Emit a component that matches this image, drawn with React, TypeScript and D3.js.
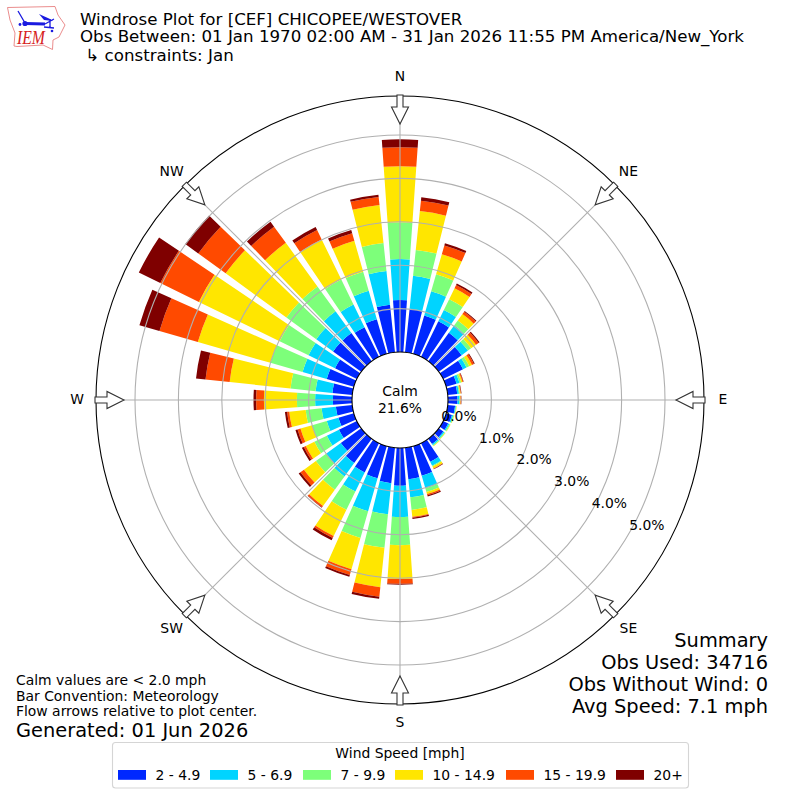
import React, { useEffect, useRef } from 'react';
import * as d3 from 'd3';

// direction of each bar, degrees clockwise from north
const directions = d3.range(36).map(i => i * 10);
const speedLabels = ['2 - 4.9', '5 - 6.9', '7 - 9.9', '10 - 14.9', '15 - 19.9', '20+'];
const speedColors = ['#0028ff', '#00d4ff', '#7dff7a', '#ffe600', '#ff4a00', '#7f0000'];

// percent of observations, one value per direction
const speed2 = [1.2, 1.01, 0.92, 0.91, 0.81, 0.65, 0.51, 0.25, 0.22, 0.22, 0.17, 0.14, 0.13, 0.13, 0.15, 0.48, 0.71, 0.73, 0.87, 0.82, 0.77, 0.75, 0.69, 0.58, 0.46, 0.37, 0.38, 0.44, 0.46, 0.65, 0.56, 0.8, 0.8, 0.76, 0.83, 1.1];
const speed5 = [0.94, 0.76, 0.58, 0.29, 0.21, 0.18, 0.09, 0.07, 0.04, 0.04, 0.02, 0.03, 0.03, 0.03, 0.03, 0.1, 0.3, 0.42, 0.72, 0.72, 0.79, 0.49, 0.38, 0.42, 0.31, 0.28, 0.33, 0.41, 0.39, 0.58, 0.68, 0.48, 0.62, 0.58, 0.68, 0.78];
const speed7 = [0.85, 0.6, 0.41, 0.28, 0.14, 0.09, 0.07, 0.04, 0.02, 0.02, 0.01, 0.02, 0.02, 0.02, 0.02, 0.02, 0.09, 0.29, 0.65, 0.78, 0.64, 0.47, 0.38, 0.29, 0.32, 0.35, 0.37, 0.42, 0.58, 0.77, 0.74, 0.85, 0.71, 0.64, 0.46, 0.65];
const speed10 = [1.29, 0.9, 0.48, 0.28, 0.18, 0.14, 0.07, 0.03, 0.02, 0.01, 0.01, 0.01, 0.01, 0.01, 0.01, 0.05, 0.05, 0.16, 0.78, 0.91, 0.75, 0.67, 0.46, 0.34, 0.22, 0.28, 0.38, 0.76, 1.41, 1.74, 2.07, 1.73, 1.24, 1.03, 0.74, 0.88];
const speed15 = [0.44, 0.24, 0.21, 0.08, 0.07, 0.07, 0.05, 0.02, 0.01, 0.01, 0, 0, 0, 0, 0, 0.01, 0.03, 0.02, 0.11, 0.22, 0.14, 0.05, 0.04, 0.1, 0.05, 0.07, 0.05, 0.18, 0.56, 0.92, 0.99, 0.78, 0.46, 0.24, 0.18, 0.19];
const speed20 = [0.18, 0.08, 0.05, 0.04, 0.02, 0.03, 0.02, 0.01, 0.01, 0.01, 0, 0, 0, 0, 0, 0.01, 0.03, 0.03, 0.02, 0.05, 0.04, 0.06, 0.01, 0.05, 0.05, 0.05, 0.05, 0.06, 0.22, 0.48, 0.55, 0.37, 0.14, 0.08, 0.08, 0.05];
const speedValues = [speed2, speed5, speed7, speed10, speed15, speed20];

const compass = ['N', 'NE', 'E', 'SE', 'S', 'SW', 'W', 'NW'];
const rTicks = [0, 1, 2, 3, 4, 5];
const titleLines = [
  'Windrose Plot for [CEF] CHICOPEE/WESTOVER',
  'Obs Between: 01 Jan 1970 02:00 AM - 31 Jan 2026 11:55 PM America/New_York',
  ' \u21b3 constraints: Jan',
];
const noteLines = ['Calm values are < 2.0 mph', 'Bar Convention: Meteorology', 'Flow arrows relative to plot center.'];
const summaryLines = ['Summary', 'Obs Used: 34716', 'Obs Without Wind: 0', 'Avg Speed: 7.1 mph'];

const FONT = '"DejaVu Sans", sans-serif';

export default function App() {
  const svgRef = useRef<SVGSVGElement | null>(null);

  useEffect(() => {
    if (!svgRef.current) return;
    const svg = d3.select(svgRef.current);
    svg.selectAll('*').remove();
    svg.attr('font-family', FONT);

    const cx = 400;
    const cy = 400;
    const outer = 304;
    const r = d3.scaleLinear().domain([0, 5]).range([48, 265]);
    const toRad = (deg: number) => (deg * Math.PI) / 180;
    const halfWidth = 4;

    const rows = directions.map((dir, i) => {
      const row: Record<string, number> = { dir };
      speedLabels.forEach((s, k) => { row[s] = speedValues[k][i]; });
      return row;
    });
    const layers = d3.stack<Record<string, number>>().keys(speedLabels)(rows);

    const plot = svg.append('g').attr('transform', `translate(${cx},${cy})`);

    // Bars
    const arc = d3.arc<d3.SeriesPoint<Record<string, number>>>()
      .innerRadius(d => r(d[0]))
      .outerRadius(d => r(d[1]))
      .startAngle(d => toRad(d.data.dir - halfWidth))
      .endAngle(d => toRad(d.data.dir + halfWidth));

    plot.selectAll('g.layer')
      .data(layers)
      .join('g')
      .attr('class', 'layer')
      .attr('fill', (_, i) => speedColors[i])
      .selectAll('path')
      .data(d => d)
      .join('path')
      .attr('d', arc);

    // Grid
    plot.append('g')
      .selectAll('circle')
      .data(rTicks.slice(1))
      .join('circle')
      .attr('r', d => r(d))
      .attr('fill', 'none')
      .attr('stroke', '#b0b0b0')
      .attr('stroke-width', 1.1);

    plot.append('g')
      .selectAll('line')
      .data(compass.map((_, i) => i * 45))
      .join('line')
      .attr('x1', d => 48 * Math.sin(toRad(d)))
      .attr('y1', d => -48 * Math.cos(toRad(d)))
      .attr('x2', d => outer * Math.sin(toRad(d)))
      .attr('y2', d => -outer * Math.cos(toRad(d)))
      .attr('stroke', '#b0b0b0')
      .attr('stroke-width', 1.1);

    // Spines
    plot.append('circle').attr('r', outer).attr('fill', 'none').attr('stroke', 'black').attr('stroke-width', 1.1);
    plot.append('circle').attr('r', 48).attr('fill', 'white').attr('stroke', 'black').attr('stroke-width', 1.1);

    // Flow arrows point to the plot center
    plot.append('g')
      .selectAll('path')
      .data(compass.map((_, i) => i * 45))
      .join('path')
      .attr('transform', d => `rotate(${d})`)
      .attr('d', 'M-3,-305 L3,-305 L3,-293 L8.5,-293 L0,-276 L-8.5,-293 L-3,-293 Z')
      .attr('fill', 'white')
      .attr('stroke', '#333')
      .attr('stroke-width', 1.1);

    // Compass labels
    plot.append('g')
      .selectAll('text')
      .data(compass)
      .join('text')
      .attr('x', (_, i) => 323 * Math.sin(toRad(i * 45)))
      .attr('y', (_, i) => -323 * Math.cos(toRad(i * 45)))
      .attr('dy', '0.32em')
      .attr('text-anchor', 'middle')
      .attr('font-size', 13.9)
      .text(d => d);

    // Radial tick labels
    plot.append('g')
      .selectAll('text')
      .data(rTicks)
      .join('text')
      .attr('x', d => r(d) * Math.sin(toRad(120)) + 17.4)
      .attr('y', d => -r(d) * Math.cos(toRad(120)) - 8)
      .attr('dy', '0.36em')
      .attr('text-anchor', 'middle')
      .attr('font-size', 13.9)
      .text(d => `${d.toFixed(1)}%`);

    // Calm
    plot.append('text').attr('y', -9).attr('dy', '0.36em').attr('text-anchor', 'middle').attr('font-size', 13.9).text('Calm');
    plot.append('text').attr('y', 8).attr('dy', '0.36em').attr('text-anchor', 'middle').attr('font-size', 13.9).text('21.6%');

    // Title
    const titleY = [25, 42, 60.5];
    svg.append('g')
      .selectAll('text')
      .data(titleLines)
      .join('text')
      .attr('x', 80)
      .attr('y', (_, i) => titleY[i])
      .attr('font-size', 16.67)
      .style('white-space', 'pre')
      .text(d => d);

    // Notes
    svg.append('g')
      .selectAll('text')
      .data(noteLines)
      .join('text')
      .attr('x', 16)
      .attr('y', (_, i) => 685 + i * 15.6)
      .attr('font-size', 13.9)
      .text(d => d);
    svg.append('text').attr('x', 16).attr('y', 736.5).attr('font-size', 19.4).text('Generated: 01 Jun 2026');

    // Summary
    svg.append('g')
      .selectAll('text')
      .data(summaryLines)
      .join('text')
      .attr('x', 768)
      .attr('y', (_, i) => 646.5 + i * 22.3)
      .attr('text-anchor', 'end')
      .attr('font-size', 19.4)
      .text(d => d);

    // Legend
    const legendX = [118, 210, 303, 395, 506, 616];
    const legend = svg.append('g');
    legend.append('rect')
      .attr('x', 112.5).attr('y', 742.5).attr('width', 576).attr('height', 45.5).attr('rx', 3)
      .attr('fill', 'white').attr('stroke', '#d5d5d5').attr('stroke-width', 1.1);
    legend.append('text')
      .attr('x', 400).attr('y', 758).attr('text-anchor', 'middle').attr('font-size', 13.9)
      .text('Wind Speed [mph]');
    const items = legend.selectAll('g').data(speedLabels).join('g')
      .attr('transform', (_, i) => `translate(${legendX[i]},770)`);
    items.append('rect').attr('width', 28).attr('height', 9.8).attr('fill', (_, i) => speedColors[i]);
    items.append('text').attr('x', 37.5).attr('y', 10).attr('font-size', 13.9).text(d => d);

    // IEM logo
    const logo = svg.append('g');
    logo.append('path')
      .attr('d', 'M7.5,7.5 L55,6.5 L58,15 L65,25 L59,37 L53,40 L52.5,49.5 L43,45 L17,46.5 L14,46 L15,33 L10,20 Z')
      .attr('fill', 'white').attr('stroke', '#e88080').attr('stroke-width', 0.9);
    logo.append('path')
      .attr('d', 'M25,23.5 L45,24 M45,24 L54,19 M25,23 L18,11 M50,19 L50,28 M44,27 L54,28')
      .attr('fill', 'none').attr('stroke', '#1a1ae0').attr('stroke-width', 1.3);
    logo.append('path').attr('d', 'M25,22 L45,22.5 L45,25.5 L25,25 Z').attr('fill', '#1a1ae0');
    logo.append('path').attr('d', 'M39,14 L50,19 L53,21 L44,20 Z').attr('fill', '#1a1ae0');
    logo.append('circle').attr('cx', 25).attr('cy', 23.5).attr('r', 2.6).attr('fill', '#1a1ae0');
    logo.append('circle').attr('cx', 20).attr('cy', 24.5).attr('r', 1.4).attr('fill', '#1a1ae0');
    logo.append('circle').attr('cx', 52).attr('cy', 31).attr('r', 1.3).attr('fill', '#1a1ae0');
    logo.append('text')
      .attr('x', 17).attr('y', 44).attr('font-family', '"Liberation Serif", serif').attr('font-style', 'italic')
      .attr('font-size', 18).attr('fill', '#d62020')
      .attr('textLength', 28).attr('lengthAdjust', 'spacingAndGlyphs').text('IEM');
  }, []);

  return (
    <svg
      ref={svgRef}
      width={800}
      height={800}
      style={{ position: 'absolute', left: 0, top: 0, background: 'white' }}
    />
  );
}
